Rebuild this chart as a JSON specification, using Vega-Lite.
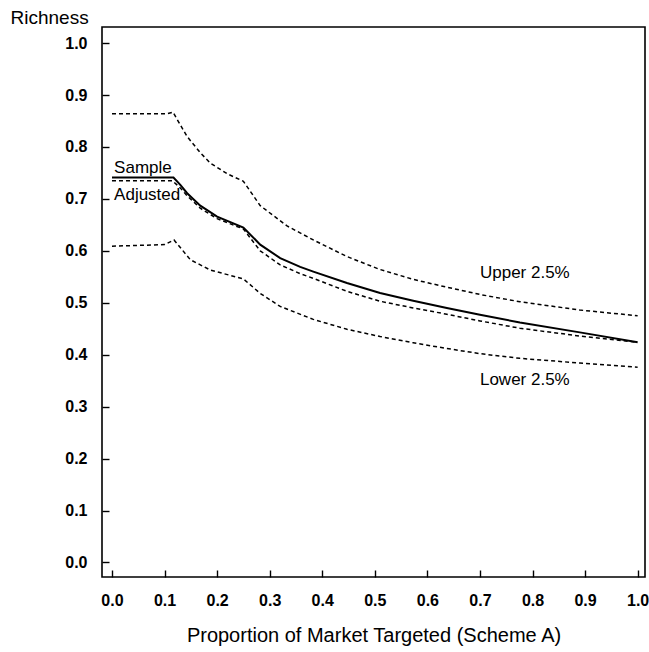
{
  "$schema": "https://vega.github.io/schema/vega-lite/v6.json",
  "width": 543,
  "height": 550,
  "autosize": {"type": "none"},
  "padding": {"left": 102, "top": 27, "right": 4, "bottom": 75},
  "background": "white",
  "config": {
    "view": {"stroke": "black", "strokeWidth": 1.6},
    "font": "Liberation Sans",
    "axis": {"domain": false, "grid": false, "tickColor": "black", "tickWidth": 1.4, "labelColor": "black", "titleColor": "black", "labelFont": "Liberation Sans", "titleFont": "Liberation Sans", "titleFontWeight": "normal"}
  },
  "datasets": {
    "curves": [
      {"x": 0.0, "y": 0.741, "series": "Sample"},
      {"x": 0.117, "y": 0.741, "series": "Sample"},
      {"x": 0.13, "y": 0.727, "series": "Sample"},
      {"x": 0.143, "y": 0.711, "series": "Sample"},
      {"x": 0.168, "y": 0.687, "series": "Sample"},
      {"x": 0.2, "y": 0.666, "series": "Sample"},
      {"x": 0.25, "y": 0.645, "series": "Sample"},
      {"x": 0.282, "y": 0.612, "series": "Sample"},
      {"x": 0.32, "y": 0.586, "series": "Sample"},
      {"x": 0.358, "y": 0.569, "series": "Sample"},
      {"x": 0.383, "y": 0.560, "series": "Sample"},
      {"x": 0.447, "y": 0.538, "series": "Sample"},
      {"x": 0.51, "y": 0.519, "series": "Sample"},
      {"x": 0.573, "y": 0.504, "series": "Sample"},
      {"x": 0.637, "y": 0.490, "series": "Sample"},
      {"x": 0.7, "y": 0.477, "series": "Sample"},
      {"x": 0.776, "y": 0.462, "series": "Sample"},
      {"x": 0.89, "y": 0.443, "series": "Sample"},
      {"x": 1.0, "y": 0.424, "series": "Sample"},
      {"x": 0.0, "y": 0.735, "series": "Adjusted"},
      {"x": 0.115, "y": 0.735, "series": "Adjusted"},
      {"x": 0.13, "y": 0.721, "series": "Adjusted"},
      {"x": 0.143, "y": 0.706, "series": "Adjusted"},
      {"x": 0.168, "y": 0.682, "series": "Adjusted"},
      {"x": 0.2, "y": 0.662, "series": "Adjusted"},
      {"x": 0.25, "y": 0.642, "series": "Adjusted"},
      {"x": 0.282, "y": 0.600, "series": "Adjusted"},
      {"x": 0.32, "y": 0.573, "series": "Adjusted"},
      {"x": 0.358, "y": 0.556, "series": "Adjusted"},
      {"x": 0.383, "y": 0.547, "series": "Adjusted"},
      {"x": 0.447, "y": 0.522, "series": "Adjusted"},
      {"x": 0.51, "y": 0.503, "series": "Adjusted"},
      {"x": 0.573, "y": 0.490, "series": "Adjusted"},
      {"x": 0.637, "y": 0.478, "series": "Adjusted"},
      {"x": 0.7, "y": 0.465, "series": "Adjusted"},
      {"x": 0.776, "y": 0.451, "series": "Adjusted"},
      {"x": 0.89, "y": 0.436, "series": "Adjusted"},
      {"x": 1.0, "y": 0.424, "series": "Adjusted"},
      {"x": 0.0, "y": 0.864, "series": "Upper"},
      {"x": 0.105, "y": 0.864, "series": "Upper"},
      {"x": 0.116, "y": 0.867, "series": "Upper"},
      {"x": 0.143, "y": 0.820, "series": "Upper"},
      {"x": 0.168, "y": 0.789, "series": "Upper"},
      {"x": 0.187, "y": 0.769, "series": "Upper"},
      {"x": 0.22, "y": 0.748, "series": "Upper"},
      {"x": 0.25, "y": 0.734, "series": "Upper"},
      {"x": 0.282, "y": 0.687, "series": "Upper"},
      {"x": 0.333, "y": 0.648, "series": "Upper"},
      {"x": 0.383, "y": 0.621, "series": "Upper"},
      {"x": 0.447, "y": 0.589, "series": "Upper"},
      {"x": 0.51, "y": 0.564, "series": "Upper"},
      {"x": 0.573, "y": 0.545, "series": "Upper"},
      {"x": 0.637, "y": 0.530, "series": "Upper"},
      {"x": 0.7, "y": 0.516, "series": "Upper"},
      {"x": 0.776, "y": 0.502, "series": "Upper"},
      {"x": 0.89, "y": 0.486, "series": "Upper"},
      {"x": 1.0, "y": 0.475, "series": "Upper"},
      {"x": 0.0, "y": 0.609, "series": "Lower"},
      {"x": 0.1, "y": 0.612, "series": "Lower"},
      {"x": 0.118, "y": 0.621, "series": "Lower"},
      {"x": 0.149, "y": 0.583, "series": "Lower"},
      {"x": 0.187, "y": 0.563, "series": "Lower"},
      {"x": 0.25, "y": 0.546, "series": "Lower"},
      {"x": 0.282, "y": 0.518, "series": "Lower"},
      {"x": 0.32, "y": 0.493, "series": "Lower"},
      {"x": 0.383, "y": 0.468, "series": "Lower"},
      {"x": 0.447, "y": 0.449, "series": "Lower"},
      {"x": 0.51, "y": 0.435, "series": "Lower"},
      {"x": 0.573, "y": 0.423, "series": "Lower"},
      {"x": 0.637, "y": 0.412, "series": "Lower"},
      {"x": 0.7, "y": 0.402, "series": "Lower"},
      {"x": 0.776, "y": 0.393, "series": "Lower"},
      {"x": 0.89, "y": 0.384, "series": "Lower"},
      {"x": 1.0, "y": 0.376, "series": "Lower"}
    ],
    "labels": [
      {"x": 0.004, "y": 0.750, "text": "Sample"},
      {"x": 0.004, "y": 0.698, "text": "Adjusted"},
      {"x": 0.700, "y": 0.547, "text": "Upper 2.5%"},
      {"x": 0.700, "y": 0.342, "text": "Lower 2.5%"}
    ]
  },
  "encoding": {
    "x": {
      "field": "x", "type": "quantitative",
      "scale": {"domain": [-0.019, 1.014], "nice": false, "zero": false},
      "axis": {
        "values": [0, 0.1, 0.2, 0.3, 0.4, 0.5, 0.6, 0.7, 0.8, 0.9, 1.0],
        "format": ".1f", "offset": -7, "tickSize": 7, "labelPadding": 15,
        "labelFontSize": 16, "labelFontWeight": "bold",
        "title": "Proportion of Market Targeted (Scheme A)",
        "titleFontSize": 20, "titleBaseline": "alphabetic", "titleY": 71
      }
    },
    "y": {
      "field": "y", "type": "quantitative",
      "scale": {"domain": [-0.028, 1.031], "nice": false, "zero": false},
      "axis": {
        "values": [0, 0.1, 0.2, 0.3, 0.4, 0.5, 0.6, 0.7, 0.8, 0.9, 1.0],
        "format": ".1f", "offset": -7, "tickSize": 7, "labelPadding": 15,
        "labelFontSize": 16, "labelFontWeight": "bold",
        "title": "Richness", "titleAngle": 0, "titleAlign": "left",
        "titleBaseline": "alphabetic", "titleX": -99, "titleY": -4,
        "titleFontSize": 19
      }
    }
  },
  "layer": [
    {
      "data": {"name": "curves"},
      "transform": [{"filter": "datum.series === 'Sample'"}],
      "mark": {"type": "line", "color": "black", "strokeWidth": 2},
      "encoding": {"detail": {"field": "series"}}
    },
    {
      "data": {"name": "curves"},
      "transform": [{"filter": "datum.series !== 'Sample'"}],
      "mark": {"type": "line", "color": "black", "strokeWidth": 1.5, "strokeDash": [4, 3]},
      "encoding": {"detail": {"field": "series"}}
    },
    {
      "data": {"name": "labels"},
      "mark": {"type": "text", "align": "left", "baseline": "alphabetic", "fontSize": 17, "color": "black", "font": "Liberation Sans"},
      "encoding": {"text": {"field": "text"}}
    }
  ]
}
